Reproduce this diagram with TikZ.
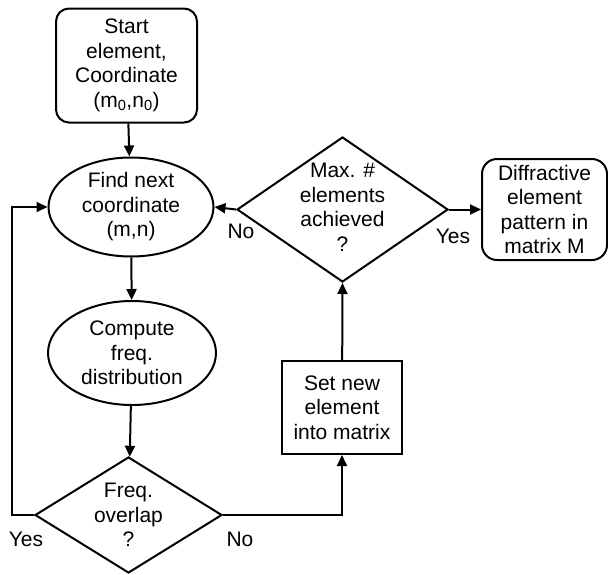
\documentclass[tikz,border=0pt]{standalone}
\usepackage{fontspec}
\setmainfont{Liberation Sans}
\usetikzlibrary{shapes.geometric,arrows.meta}
\begin{document}
\begin{tikzpicture}[x=1pt,y=-1pt,
  every node/.style={font=\fontsize{21}{24.5}\selectfont, align=center},
  ln/.style={line width=2pt},
  arr/.style={ln, -{Triangle[length=11pt,width=10pt]}},
  rbox/.style={draw, ln, rounded corners=13pt, inner sep=0pt},
  sbox/.style={draw, ln, inner sep=0pt},
  ell/.style={draw, ln, ellipse, inner sep=0pt},
  dia/.style={draw, ln, diamond, inner sep=0pt},
  txt/.style={inner sep=0pt}
]
\useasboundingbox (0,0) rectangle (608,574);
\node[rbox, minimum width=141pt, minimum height=114pt] (start) at (126.5,65.5) {};
\node[txt] (starttxt) at (start.center) {Start\\element,\\Coordinate\\(m\textsubscript{0},n\textsubscript{0})};
\node[ell, minimum width=165pt, minimum height=99pt] (find) at (131,207) {};
\node[txt] (findtxt) at (find.center) {Find next\\coordinate\\(m,n)};
\node[ell, minimum width=168pt, minimum height=104pt] (comp) at (132,353) {};
\node[txt] (comptxt) at (comp.center) {Compute\\freq.\\distribution};
\node[dia, minimum width=187pt, minimum height=116pt] (fo) at (128.5,515) {};
\node[txt] (fotxt) at (fo.center) {Freq.\\overlap\\?};
\node[sbox, minimum width=120pt, minimum height=93pt] (setb) at (342,407.5) {};
\node[txt] (settxt) at (setb.center) {Set new\\element\\into matrix};
\node[dia, minimum width=211pt, minimum height=145pt] (maxd) at (342.5,209.5) {};
\node[txt] (maxtxt) at ([yshift=2pt]maxd.center) {Max. \#\\elements\\achieved\\?};
\node[rbox, minimum width=125pt, minimum height=101pt, rounded corners=15pt] (diff) at (544.5,209.5) {};
\node[txt] (difftxt) at (diff.center) {Diffractive\\element\\pattern in\\matrix M};
\coordinate (lp) at (12,515);
\draw[arr] (start) -- (find);
\draw[arr] (find) -- (comp);
\draw[arr] (comp) -- (fo);
\draw[arr] (fo.west) -- (lp) |- (find.west);
\draw[arr] (fo.east) -| (setb.south);
\draw[arr] (setb) -- (maxd.south);
\draw[arr] (maxd.west) -- (find.east);
\draw[arr] (maxd.east) -- (diff.west);
\node[txt] (yes1) at (26,539) {Yes};
\node[txt] (no1) at (240,539) {No};
\node[txt] (no2) at (241,231) {No};
\node[txt] (yes2) at (453,236) {Yes};
\end{tikzpicture}
\end{document}
